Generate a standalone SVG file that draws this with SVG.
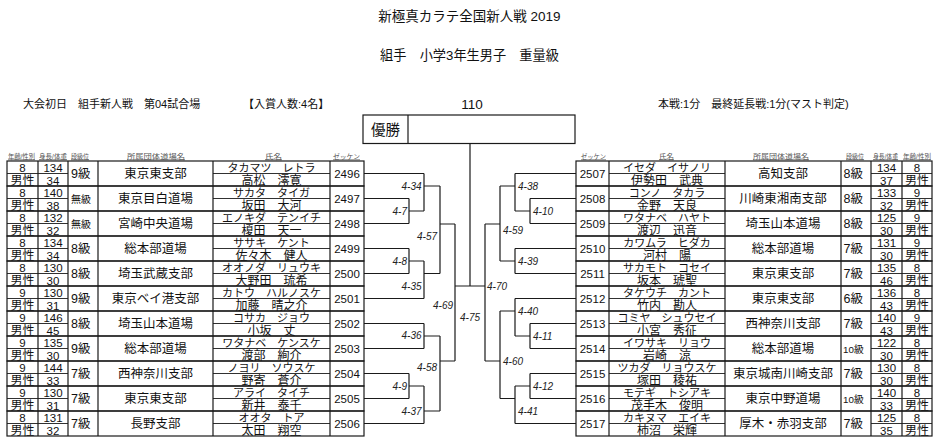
<svg xmlns="http://www.w3.org/2000/svg" width="942" height="442" viewBox="0 0 942 442">
<style>
text{font-family:'Liberation Sans','Noto Sans CJK JP',sans-serif;fill:#111}
.c{text-anchor:middle}
.e{text-anchor:end}
.n{font-size:11.5px}
.sx{font-size:12px}
.g{font-size:12.5px}
.gs{font-size:10px}
.gt{font-size:9.8px}
.dj{font-size:12.5px}
.kn{font-size:11px}
.kj{font-size:12px}
.zk{font-size:11.5px}
.lb{font-size:10px;font-style:italic;fill:#222}
.hd{font-size:6.5px;fill:#555;text-decoration:underline}
.ttl{font-size:13.5px}
.sub{font-size:13.2px}
.inf{font-size:11px}
.grid rect,.grid path{fill:none;stroke:#1a1a1a;stroke-width:1.2}
.grid .thin{stroke-width:0.9}
#connectors path{fill:none;stroke:#1a1a1a;stroke-width:1.2}
.box{fill:none;stroke:#1a1a1a;stroke-width:1.2}
</style>
<defs>
<g id="gridL" class="grid">
<rect x="7" y="0" width="357" height="25"/>
<path d="M38 0V25M68 0V25M98 0V25M213 0V25M330 0V25"/>
<path class="thin" d="M7 12.5H68M213 12.5H330"/>
</g>
<g id="gridR" class="grid">
<rect x="576" y="0" width="356" height="25"/>
<path d="M609 0V25M725 0V25M841 0V25M871 0V25M902 0V25"/>
<path class="thin" d="M609 12.5H725M871 12.5H932"/>
</g>
</defs>
<rect x="0" y="0" width="942" height="442" fill="#fff"/>

<g id="header">
<text class="ttl c" x="469.5" y="20.5">新極真カラテ全国新人戦 2019</text>
<text class="sub c" x="469.5" y="60">組手　小学3年生男子　重量級</text>
<text class="inf" x="23" y="108">大会初日　組手新人戦　第04試合場</text>
<text class="inf" x="243" y="108">【入賞人数:4名】</text>
<text class="c" x="472" y="109" style="font-size:13.5px">110</text>
<text class="inf" x="658" y="108">本戦:1分　最終延長戦:1分(マスト判定)</text>
</g>

<g id="champion">
<rect class="box" x="363" y="115" width="212" height="28.5"/>
<path class="box" d="M408 115V143.5"/>
<text class="c" x="385.5" y="134.5" style="font-size:14.5px">優勝</text>
</g>

<g id="colheads-left">
<text class="hd" x="8" y="158.5" textLength="27" lengthAdjust="spacingAndGlyphs">年齢/性別</text>
<text class="hd" x="39" y="158.5" textLength="28" lengthAdjust="spacingAndGlyphs">身長/体重</text>
<text class="hd" x="71" y="158.5" textLength="18" lengthAdjust="spacingAndGlyphs">段級位</text>
<text class="hd" x="127" y="158.5" textLength="58" lengthAdjust="spacingAndGlyphs">所属団体道場名</text>
<text class="hd" x="265" y="158.5" textLength="17" lengthAdjust="spacingAndGlyphs">氏名</text>
<text class="hd" x="333" y="158.5" textLength="27" lengthAdjust="spacingAndGlyphs">ゼッケン</text>
</g>
<g id="colheads-right">
<text class="hd" x="581" y="158.5" textLength="25" lengthAdjust="spacingAndGlyphs">ゼッケン</text>
<text class="hd" x="659" y="158.5" textLength="15" lengthAdjust="spacingAndGlyphs">氏名</text>
<text class="hd" x="753" y="158.5" textLength="56" lengthAdjust="spacingAndGlyphs">所属団体道場名</text>
<text class="hd" x="846" y="158.5" textLength="18" lengthAdjust="spacingAndGlyphs">段級位</text>
<text class="hd" x="873" y="158.5" textLength="25" lengthAdjust="spacingAndGlyphs">身長/体重</text>
<text class="hd" x="903" y="158.5" textLength="28" lengthAdjust="spacingAndGlyphs">年齢/性別</text>
</g>

<!-- left competitors -->
<g id="p2496" transform="translate(0,161)"><use href="#gridL"/>
<text class="n c" x="22.5" y="10.5">8</text><text class="sx c" x="22.5" y="23.5">男性</text>
<text class="n c" x="53" y="10.5">134</text><text class="n c" x="53" y="23.5">34</text>
<text class="g" x="71" y="17">9級</text><text class="dj c" x="155.5" y="17.2">東京東支部</text>
<text class="kn c" x="271.5" y="10.6">タカマツ　レトラ</text><text class="kj c" x="271.5" y="23.9">高松　澪寛</text>
<text class="zk c" x="347" y="16.8">2496</text></g>
<g id="p2497" transform="translate(0,186)"><use href="#gridL"/>
<text class="n c" x="22.5" y="10.5">8</text><text class="sx c" x="22.5" y="23.5">男性</text>
<text class="n c" x="53" y="10.5">140</text><text class="n c" x="53" y="23.5">38</text>
<text class="gs" x="71" y="16.8">無級</text><text class="dj c" x="155.5" y="17.2">東京目白道場</text>
<text class="kn c" x="271.5" y="10.6">サカタ　タイガ</text><text class="kj c" x="271.5" y="23.9">坂田　大河</text>
<text class="zk c" x="347" y="16.8">2497</text></g>
<g id="p2498" transform="translate(0,211)"><use href="#gridL"/>
<text class="n c" x="22.5" y="10.5">8</text><text class="sx c" x="22.5" y="23.5">男性</text>
<text class="n c" x="53" y="10.5">132</text><text class="n c" x="53" y="23.5">32</text>
<text class="gs" x="71" y="16.8">無級</text><text class="dj c" x="155.5" y="17.2">宮崎中央道場</text>
<text class="kn c" x="271.5" y="10.6">エノキダ　テンイチ</text><text class="kj c" x="271.5" y="23.9">榎田　天一</text>
<text class="zk c" x="347" y="16.8">2498</text></g>
<g id="p2499" transform="translate(0,236)"><use href="#gridL"/>
<text class="n c" x="22.5" y="10.5">8</text><text class="sx c" x="22.5" y="23.5">男性</text>
<text class="n c" x="53" y="10.5">134</text><text class="n c" x="53" y="23.5">34</text>
<text class="g" x="71" y="17">8級</text><text class="dj c" x="155.5" y="17.2">総本部道場</text>
<text class="kn c" x="271.5" y="10.6">ササキ　ケント</text><text class="kj c" x="271.5" y="23.9">佐々木　健人</text>
<text class="zk c" x="347" y="16.8">2499</text></g>
<g id="p2500" transform="translate(0,261)"><use href="#gridL"/>
<text class="n c" x="22.5" y="10.5">8</text><text class="sx c" x="22.5" y="23.5">男性</text>
<text class="n c" x="53" y="10.5">130</text><text class="n c" x="53" y="23.5">30</text>
<text class="g" x="71" y="17">8級</text><text class="dj c" x="155.5" y="17.2">埼玉武蔵支部</text>
<text class="kn c" x="271.5" y="10.6">オオノダ　リュウキ</text><text class="kj c" x="271.5" y="23.9">大野田　琉希</text>
<text class="zk c" x="347" y="16.8">2500</text></g>
<g id="p2501" transform="translate(0,286)"><use href="#gridL"/>
<text class="n c" x="22.5" y="10.5">9</text><text class="sx c" x="22.5" y="23.5">男性</text>
<text class="n c" x="53" y="10.5">130</text><text class="n c" x="53" y="23.5">31</text>
<text class="g" x="71" y="17">9級</text><text class="dj c" x="155.5" y="17.2">東京ベイ港支部</text>
<text class="kn c" x="271.5" y="10.6">カトウ　ハルノスケ</text><text class="kj c" x="271.5" y="23.9">加藤　晴之介</text>
<text class="zk c" x="347" y="16.8">2501</text></g>
<g id="p2502" transform="translate(0,311)"><use href="#gridL"/>
<text class="n c" x="22.5" y="10.5">9</text><text class="sx c" x="22.5" y="23.5">男性</text>
<text class="n c" x="53" y="10.5">146</text><text class="n c" x="53" y="23.5">45</text>
<text class="g" x="71" y="17">8級</text><text class="dj c" x="155.5" y="17.2">埼玉山本道場</text>
<text class="kn c" x="271.5" y="10.6">コサカ　ジョウ</text><text class="kj c" x="271.5" y="23.9">小坂　丈</text>
<text class="zk c" x="347" y="16.8">2502</text></g>
<g id="p2503" transform="translate(0,336)"><use href="#gridL"/>
<text class="n c" x="22.5" y="10.5">9</text><text class="sx c" x="22.5" y="23.5">男性</text>
<text class="n c" x="53" y="10.5">135</text><text class="n c" x="53" y="23.5">30</text>
<text class="g" x="71" y="17">9級</text><text class="dj c" x="155.5" y="17.2">総本部道場</text>
<text class="kn c" x="271.5" y="10.6">ワタナベ　ケンスケ</text><text class="kj c" x="271.5" y="23.9">渡部　絢介</text>
<text class="zk c" x="347" y="16.8">2503</text></g>
<g id="p2504" transform="translate(0,361)"><use href="#gridL"/>
<text class="n c" x="22.5" y="10.5">9</text><text class="sx c" x="22.5" y="23.5">男性</text>
<text class="n c" x="53" y="10.5">144</text><text class="n c" x="53" y="23.5">33</text>
<text class="g" x="71" y="17">7級</text><text class="dj c" x="155.5" y="17.2">西神奈川支部</text>
<text class="kn c" x="271.5" y="10.6">ノヨリ　ソウスケ</text><text class="kj c" x="271.5" y="23.9">野寄　蒼介</text>
<text class="zk c" x="347" y="16.8">2504</text></g>
<g id="p2505" transform="translate(0,386)"><use href="#gridL"/>
<text class="n c" x="22.5" y="10.5">9</text><text class="sx c" x="22.5" y="23.5">男性</text>
<text class="n c" x="53" y="10.5">130</text><text class="n c" x="53" y="23.5">31</text>
<text class="g" x="71" y="17">7級</text><text class="dj c" x="155.5" y="17.2">東京東支部</text>
<text class="kn c" x="271.5" y="10.6">アライ　タイチ</text><text class="kj c" x="271.5" y="23.9">新井　泰千</text>
<text class="zk c" x="347" y="16.8">2505</text></g>
<g id="p2506" transform="translate(0,411)"><use href="#gridL"/>
<text class="n c" x="22.5" y="10.5">8</text><text class="sx c" x="22.5" y="23.5">男性</text>
<text class="n c" x="53" y="10.5">131</text><text class="n c" x="53" y="23.5">32</text>
<text class="g" x="71" y="17">7級</text><text class="dj c" x="155.5" y="17.2">長野支部</text>
<text class="kn c" x="271.5" y="10.6">オオタ　トア</text><text class="kj c" x="271.5" y="23.9">太田　翔空</text>
<text class="zk c" x="347" y="16.8">2506</text></g>

<!-- right competitors -->
<g id="p2507" transform="translate(0,161)"><use href="#gridR"/>
<text class="zk c" x="592.5" y="16.8">2507</text>
<text class="kn c" x="667" y="10.6">イセダ　イサノリ</text><text class="kj c" x="667" y="23.9">伊勢田　武典</text>
<text class="dj c" x="783" y="17.2">高知支部</text><text class="g" x="843.5" y="17">8級</text>
<text class="n c" x="886.5" y="10.5">134</text><text class="n c" x="886.5" y="23.5">37</text>
<text class="n c" x="917" y="10.5">8</text><text class="sx c" x="917" y="23.5">男性</text></g>
<g id="p2508" transform="translate(0,186)"><use href="#gridR"/>
<text class="zk c" x="592.5" y="16.8">2508</text>
<text class="kn c" x="667" y="10.6">コンノ　タカラ</text><text class="kj c" x="667" y="23.9">金野　天良</text>
<text class="dj c" x="783" y="17.2">川崎東湘南支部</text><text class="g" x="843.5" y="17">8級</text>
<text class="n c" x="886.5" y="10.5">133</text><text class="n c" x="886.5" y="23.5">32</text>
<text class="n c" x="917" y="10.5">9</text><text class="sx c" x="917" y="23.5">男性</text></g>
<g id="p2509" transform="translate(0,211)"><use href="#gridR"/>
<text class="zk c" x="592.5" y="16.8">2509</text>
<text class="kn c" x="667" y="10.6">ワタナベ　ハヤト</text><text class="kj c" x="667" y="23.9">渡辺　迅音</text>
<text class="dj c" x="783" y="17.2">埼玉山本道場</text><text class="g" x="843.5" y="17">8級</text>
<text class="n c" x="886.5" y="10.5">125</text><text class="n c" x="886.5" y="23.5">30</text>
<text class="n c" x="917" y="10.5">9</text><text class="sx c" x="917" y="23.5">男性</text></g>
<g id="p2510" transform="translate(0,236)"><use href="#gridR"/>
<text class="zk c" x="592.5" y="16.8">2510</text>
<text class="kn c" x="667" y="10.6">カワムラ　ヒダカ</text><text class="kj c" x="667" y="23.9">河村　陽</text>
<text class="dj c" x="783" y="17.2">総本部道場</text><text class="g" x="843.5" y="17">7級</text>
<text class="n c" x="886.5" y="10.5">131</text><text class="n c" x="886.5" y="23.5">30</text>
<text class="n c" x="917" y="10.5">9</text><text class="sx c" x="917" y="23.5">男性</text></g>
<g id="p2511" transform="translate(0,261)"><use href="#gridR"/>
<text class="zk c" x="592.5" y="16.8">2511</text>
<text class="kn c" x="667" y="10.6">サカモト　コセイ</text><text class="kj c" x="667" y="23.9">坂本　琥聖</text>
<text class="dj c" x="783" y="17.2">東京東支部</text><text class="g" x="843.5" y="17">7級</text>
<text class="n c" x="886.5" y="10.5">135</text><text class="n c" x="886.5" y="23.5">46</text>
<text class="n c" x="917" y="10.5">8</text><text class="sx c" x="917" y="23.5">男性</text></g>
<g id="p2512" transform="translate(0,286)"><use href="#gridR"/>
<text class="zk c" x="592.5" y="16.8">2512</text>
<text class="kn c" x="667" y="10.6">タケウチ　カント</text><text class="kj c" x="667" y="23.9">竹内　勘人</text>
<text class="dj c" x="783" y="17.2">東京東支部</text><text class="g" x="843.5" y="17">6級</text>
<text class="n c" x="886.5" y="10.5">136</text><text class="n c" x="886.5" y="23.5">43</text>
<text class="n c" x="917" y="10.5">8</text><text class="sx c" x="917" y="23.5">男性</text></g>
<g id="p2513" transform="translate(0,311)"><use href="#gridR"/>
<text class="zk c" x="592.5" y="16.8">2513</text>
<text class="kn c" x="667" y="10.6">コミヤ　シュウセイ</text><text class="kj c" x="667" y="23.9">小宮　秀征</text>
<text class="dj c" x="783" y="17.2">西神奈川支部</text><text class="g" x="843.5" y="17">7級</text>
<text class="n c" x="886.5" y="10.5">140</text><text class="n c" x="886.5" y="23.5">43</text>
<text class="n c" x="917" y="10.5">9</text><text class="sx c" x="917" y="23.5">男性</text></g>
<g id="p2514" transform="translate(0,336)"><use href="#gridR"/>
<text class="zk c" x="592.5" y="16.8">2514</text>
<text class="kn c" x="667" y="10.6">イワサキ　リョウ</text><text class="kj c" x="667" y="23.9">岩崎　涼</text>
<text class="dj c" x="783" y="17.2">総本部道場</text><text class="gt" x="843" y="16.5">10級</text>
<text class="n c" x="886.5" y="10.5">122</text><text class="n c" x="886.5" y="23.5">30</text>
<text class="n c" x="917" y="10.5">8</text><text class="sx c" x="917" y="23.5">男性</text></g>
<g id="p2515" transform="translate(0,361)"><use href="#gridR"/>
<text class="zk c" x="592.5" y="16.8">2515</text>
<text class="kn c" x="667" y="10.6">ツカダ　リョウスケ</text><text class="kj c" x="667" y="23.9">塚田　稜祐</text>
<text class="dj c" x="783" y="17.2">東京城南川崎支部</text><text class="g" x="843.5" y="17">7級</text>
<text class="n c" x="886.5" y="10.5">130</text><text class="n c" x="886.5" y="23.5">30</text>
<text class="n c" x="917" y="10.5">8</text><text class="sx c" x="917" y="23.5">男性</text></g>
<g id="p2516" transform="translate(0,386)"><use href="#gridR"/>
<text class="zk c" x="592.5" y="16.8">2516</text>
<text class="kn c" x="667" y="10.6">モテギ　トシアキ</text><text class="kj c" x="667" y="23.9">茂手木　俊明</text>
<text class="dj c" x="783" y="17.2">東京中野道場</text><text class="gt" x="843" y="16.5">10級</text>
<text class="n c" x="886.5" y="10.5">140</text><text class="n c" x="886.5" y="23.5">33</text>
<text class="n c" x="917" y="10.5">8</text><text class="sx c" x="917" y="23.5">男性</text></g>
<g id="p2517" transform="translate(0,411)"><use href="#gridR"/>
<text class="zk c" x="592.5" y="16.8">2517</text>
<text class="kn c" x="667" y="10.6">カキヌマ　エイキ</text><text class="kj c" x="667" y="23.9">柿沼　栄輝</text>
<text class="dj c" x="783" y="17.2">厚木・赤羽支部</text><text class="g" x="843.5" y="17">7級</text>
<text class="n c" x="886.5" y="10.5">125</text><text class="n c" x="886.5" y="23.5">35</text>
<text class="n c" x="917" y="10.5">8</text><text class="sx c" x="917" y="23.5">男性</text></g>

<g id="connectors">
<path d="M364 173.5H424M364 198.5H409M364 223.5H409M409 198.5V223.5M409 211H424M424 173.5V211M424 186H440"/>
<path d="M364 248.5H409M364 273.5H409M409 248.5V273.5M409 261H424M364 298.5H424M424 261V298.5M424 273.5H440"/>
<path d="M440 186V273.5M440 224H455"/>
<path d="M364 323.5H424M364 348.5H424M424 323.5V348.5M424 336H440"/>
<path d="M364 373.5H409M364 398.5H409M409 373.5V398.5M409 386H424M364 423.5H424M424 386V423.5M424 411H440"/>
<path d="M440 336V411M440 361H455M455 224V361M455 286H485M470 143.5V286"/>
<path d="M576 173.5H515M576 198.5H530M576 223.5H530M530 198.5V223.5M530 211H515M515 173.5V211M515 186H500"/>
<path d="M576 248.5H515M576 273.5H515M515 248.5V273.5M515 261H500M500 186V261M500 224H485"/>
<path d="M576 298.5H515M576 323.5H530M576 348.5H530M530 323.5V348.5M530 336H515M515 298.5V336M515 311H500"/>
<path d="M576 373.5H530M576 398.5H530M530 373.5V398.5M530 386H515M576 423.5H515M515 386V423.5M515 398.5H500"/>
<path d="M500 311V398.5M500 361H485M485 224V361"/>
</g>

<g id="matches">
<text class="lb e" x="421.5" y="189.5">4-34</text>
<text class="lb e" x="407" y="214.5">4-7</text>
<text class="lb e" x="437" y="239.5">4-57</text>
<text class="lb e" x="407" y="264.5">4-8</text>
<text class="lb e" x="421.5" y="289.5">4-35</text>
<text class="lb e" x="453" y="308.5">4-69</text>
<text class="lb" x="460" y="321">4-75</text>
<text class="lb e" x="421.5" y="339">4-36</text>
<text class="lb e" x="437" y="371">4-58</text>
<text class="lb e" x="407" y="390">4-9</text>
<text class="lb e" x="421.5" y="414.5">4-37</text>
<text class="lb" x="518" y="189.5">4-38</text>
<text class="lb" x="533" y="214.5">4-10</text>
<text class="lb" x="503" y="233.5">4-59</text>
<text class="lb" x="518" y="264.5">4-39</text>
<text class="lb" x="487" y="289.5">4-70</text>
<text class="lb" x="518" y="314.5">4-40</text>
<text class="lb" x="533" y="339.5">4-11</text>
<text class="lb" x="503" y="364.5">4-60</text>
<text class="lb" x="533" y="390">4-12</text>
<text class="lb" x="518" y="414.5">4-41</text>
</g>
</svg>
